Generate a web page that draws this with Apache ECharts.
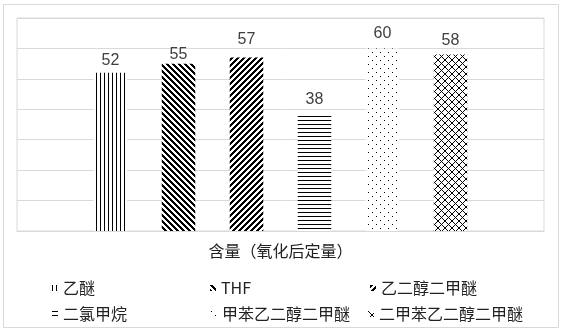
<!DOCTYPE html>
<html>
<head>
<meta charset="utf-8">
<script src="https://cdn.jsdelivr.net/npm/echarts@6/dist/echarts.min.js"></script>
<style>
html,body{margin:0;padding:0;background:#fff;}
#chart{width:563px;height:333px;}
</style>
</head>
<body>
<div id="chart"></div>
<script>
// ---- data ----
const categories = ['含量（氧化后定量）'];
const seriesNames = ['乙醚', 'THF', '乙二醇二甲醚', '二氯甲烷', '甲苯乙二醇二甲醚', '二甲苯乙二醇二甲醚'];
const values = [52, 55, 57, 38, 60, 58];
const yMin = 0, yMax = 70, yStep = 10;

// ---- patterns ----
function makePattern(n, fn) {
  const c = document.createElement('canvas');
  c.width = n; c.height = n;
  const ctx = c.getContext('2d');
  ctx.fillStyle = '#fff'; ctx.fillRect(0, 0, n, n);
  ctx.fillStyle = '#000';
  for (let y = 0; y < n; y++) for (let x = 0; x < n; x++) if (fn(x, y)) ctx.fillRect(x, y, 1, 1);
  return { image: c, repeat: 'repeat' };
}
const mod = (a, n) => ((a % n) + n) % n;
const patterns = [
  makePattern(4, (x, y) => x === 0),
  makePattern(6, (x, y) => mod(x - y, 6) < 3),
  makePattern(6, (x, y) => mod(x + y, 6) < 3),
  makePattern(4, (x, y) => y === 0),
  makePattern(8, (x, y) => (x === 0 && y === 0) || (x === 4 && y === 4)),
  makePattern(7, (x, y) => mod(x + y, 7) === 0 || mod(x - y, 7) === 0)
];
const labelDist = [4, 1, 10, 8, 7, 6];
const legendPos = [
  [47, 275], [205, 275], [365, 275],
  [47, 301], [206, 301], [363, 301]
];

const chart = echarts.init(document.getElementById('chart'), null, { renderer: 'canvas' });
const series = seriesNames.map((name, i) => ({
  name: name,
  type: 'bar',
  data: [values[i]],
  barWidth: 33.5,
  barGap: '103%',
  itemStyle: { color: patterns[i] },
  label: {
    show: true, position: 'top', distance: labelDist[i],
    fontFamily: 'Liberation Sans', fontSize: 16, color: '#404040'
  },
  emphasis: { disabled: true }
}));

const legends = seriesNames.map((name, i) => ({
  data: [name],
  left: legendPos[i][0], top: legendPos[i][1],
  icon: 'rect', itemWidth: 6, itemHeight: 6, itemGap: 5,
  textStyle: { fontFamily: 'Noto Sans CJK SC', fontSize: 16, color: '#222' },
  selectedMode: false
}));

chart.setOption({
  animation: false,
  backgroundColor: '#fff',
  graphic: [{
    type: 'rect', shape: { x: 3.5, y: 4.5, width: 555, height: 323 },
    style: { fill: 'none', stroke: '#d9d9d9', lineWidth: 1 }, silent: true
  }],
  grid: { left: 17, right: 19, top: 18, bottom: 102, show: true, borderColor: '#d9d9d9', borderWidth: 1, containLabel: false },
  legend: legends,
  xAxis: {
    type: 'category', data: categories,
    axisTick: { show: false },
    axisLine: { lineStyle: { color: '#d9d9d9' } },
    axisLabel: { fontFamily: 'Noto Sans CJK SC', fontSize: 16, color: '#222', margin: 12 }
  },
  yAxis: {
    type: 'value', min: yMin, max: yMax, interval: yStep,
    axisLabel: { show: false }, axisLine: { show: false }, axisTick: { show: false },
    splitLine: { lineStyle: { color: '#d9d9d9' } }
  },
  series: series
});
</script>
</body>
</html>
